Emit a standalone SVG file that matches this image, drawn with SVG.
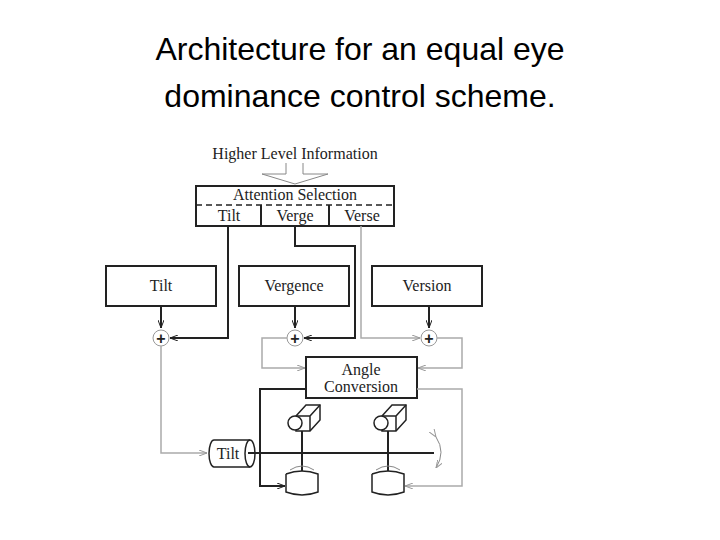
<svg xmlns="http://www.w3.org/2000/svg" width="720" height="540" viewBox="0 0 720 540">
<defs>
<marker id="ab" markerWidth="8" markerHeight="6" refX="8" refY="3" orient="auto" markerUnits="userSpaceOnUse"><path d="M0,0 L8,3 L0,6" fill="none" stroke="#222" stroke-width="1"/></marker>
<marker id="ag" markerWidth="8" markerHeight="6" refX="8" refY="3" orient="auto" markerUnits="userSpaceOnUse"><path d="M0,0 L8,3 L0,6" fill="none" stroke="#999" stroke-width="1"/></marker>
</defs>
<style>
.t{font-family:"Liberation Serif",serif;font-size:16px;fill:#222;text-anchor:middle}
.p{font-family:"Liberation Sans",sans-serif;font-size:16px;font-weight:bold;fill:#222;text-anchor:middle}
.b{fill:#fff;stroke:#222;stroke-width:2}
.k{fill:none;stroke:#222;stroke-width:2}
.g{fill:none;stroke:#aaa;stroke-width:1.5}
</style>
<rect width="720" height="540" fill="#fff"/>
<text x="360" y="60" font-family="Liberation Sans,sans-serif" font-size="32" text-anchor="middle">Architecture for an equal eye</text>
<text x="360" y="107" font-family="Liberation Sans,sans-serif" font-size="32" text-anchor="middle">dominance control scheme.</text>
<text class="t" x="295" y="159">Higher Level Information</text>
<path d="M286,163 V174 H262 L295,184 L328,174 H303 V163" fill="none" stroke="#888" stroke-width="1"/>
<g id="attention">
<rect class="b" x="196" y="186" width="198" height="40"/>
<line x1="196" y1="205" x2="394" y2="205" stroke="#222" stroke-width="1.5" stroke-dasharray="6,4"/>
<line x1="261" y1="205" x2="261" y2="226" stroke="#222" stroke-width="2"/>
<line x1="329" y1="205" x2="329" y2="226" stroke="#222" stroke-width="2"/>
<text class="t" x="295" y="200">Attention Selection</text>
<text class="t" x="229" y="221">Tilt</text>
<text class="t" x="295" y="221">Verge</text>
<text class="t" x="362" y="221">Verse</text>
</g>
<g id="tilt"><rect class="b" x="106" y="266" width="110" height="40"/><text class="t" x="161" y="291">Tilt</text></g>
<g id="vergence"><rect class="b" x="239" y="266" width="110" height="40"/><text class="t" x="294" y="291">Vergence</text></g>
<g id="version"><rect class="b" x="372" y="266" width="110" height="40"/><text class="t" x="427" y="291">Version</text></g>
<g id="sum1"><circle cx="161" cy="338" r="8" fill="#fff" stroke="#999"/><text class="p" x="161" y="344">+</text></g>
<g id="sum2"><circle cx="295" cy="338" r="8" fill="#fff" stroke="#999"/><text class="p" x="295" y="344">+</text></g>
<g id="sum3"><circle cx="429" cy="338" r="8" fill="#fff" stroke="#999"/><text class="p" x="429" y="344">+</text></g>
<g id="angle"><rect class="b" x="306" y="357" width="111" height="41"/><text class="t" x="361" y="375">Angle</text><text class="t" x="361" y="392">Conversion</text></g>
<g id="tiltmotor">
<path d="M214,440 H250 A5,13.5 0 0 1 250,467 H214 A5,13.5 0 0 1 214,440Z" fill="#fff" stroke="#222" stroke-width="1.5"/>
<path d="M250,440 A5,13.5 0 0 0 250,467" fill="none" stroke="#222" stroke-width="1.5"/>
<text class="t" x="228" y="459">Tilt</text>
</g>
<g id="cam1">
<path d="M296,416 L306,405 H320 V420 L310,431 H296Z" fill="#fff" stroke="#222" stroke-width="1.5"/>
<path d="M296,416 H310 V431 M310,416 L320,405" fill="none" stroke="#222" stroke-width="1.5"/>
<circle cx="295" cy="423" r="7" fill="#fff" stroke="#222" stroke-width="1.5"/>
<line x1="302" y1="431" x2="302" y2="478" stroke="#222" stroke-width="2"/>
<path d="M286,474 V492 Q302,498 318,492 V474 Q302,468 286,474" fill="#fff" stroke="#222" stroke-width="1.5"/>
<path d="M290,470 Q302,462 314,470" fill="none" stroke="#888" stroke-width="1"/>
</g>
<g id="cam2">
<path d="M382,416 L392,405 H406 V420 L396,431 H382Z" fill="#fff" stroke="#222" stroke-width="1.5"/>
<path d="M382,416 H396 V431 M396,416 L406,405" fill="none" stroke="#222" stroke-width="1.5"/>
<circle cx="381" cy="423" r="7" fill="#fff" stroke="#222" stroke-width="1.5"/>
<line x1="388" y1="431" x2="388" y2="478" stroke="#222" stroke-width="2"/>
<path d="M372,474 V492 Q388,498 404,492 V474 Q388,468 372,474" fill="#fff" stroke="#222" stroke-width="1.5"/>
<path d="M376,470 Q388,462 400,470" fill="none" stroke="#888" stroke-width="1"/>
</g>
<g id="connectors">
<line x1="248" y1="453" x2="434" y2="453" stroke="#222" stroke-width="2"/>
<path d="M436,437 Q446,452 436,468" fill="none" stroke="#888" stroke-width="1" marker-start="url(#ag)" marker-end="url(#ag)"/>
<path class="k" d="M161,306 V328" marker-end="url(#ab)"/>
<path class="k" d="M295,306 V328" marker-end="url(#ab)"/>
<path class="k" d="M429,306 V328" marker-end="url(#ab)"/>
<path class="k" d="M228,226 V338 H170" marker-end="url(#ab)"/>
<path class="k" d="M295,226 V246 H355 V338 H304" marker-end="url(#ab)"/>
<path class="g" d="M361,226 V338 H420" marker-end="url(#ag)"/>
<path class="g" d="M161,346 V453 H207" marker-end="url(#ag)"/>
<path class="g" d="M287,338 H262 V368 H305" marker-end="url(#ag)"/>
<path class="g" d="M437,338 H462 V368 H418" marker-end="url(#ag)"/>
<path class="k" d="M306,389 H260 V486 H285" marker-end="url(#ab)"/>
<path class="g" d="M417,389 H462 V486 H405" marker-end="url(#ag)"/>
</g>
</svg>
